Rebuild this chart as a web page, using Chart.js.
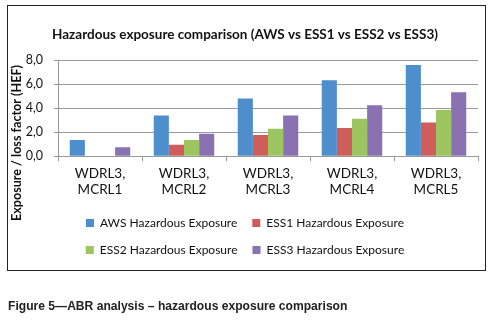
<!DOCTYPE html>
<html>
<head>
<meta charset="utf-8">
<script src="https://cdn.jsdelivr.net/npm/chart.js@4/dist/chart.umd.min.js"></script>
<style>
  html, body { margin: 0; padding: 0; background: #fff; }
  #wrap { position: relative; width: 492px; height: 322px; overflow: hidden; }
  #frame { position: absolute; left: 7px; top: 5px; width: 477px; height: 264px; border: 1px solid #222; pointer-events: none; }
  #cv { position: absolute; left: 0; top: 0; }
  #caption { position: absolute; left: 8px; top: 299px; font-family: "Liberation Sans", Arial, sans-serif; font-weight: bold; font-size: 12.1px; color: #222; white-space: nowrap; }
</style>
</head>
<body>
<div id="wrap">
  <canvas id="cv" width="492" height="322"></canvas>
  <div id="frame"></div>
  <div id="caption">Figure 5—ABR analysis – hazardous exposure comparison</div>
</div>
<script>
const categories = [["WDRL3,", "MCRL1"], ["WDRL3,", "MCRL2"], ["WDRL3,", "MCRL3"], ["WDRL3,", "MCRL4"], ["WDRL3,", "MCRL5"]];
const seriesNames = ["AWS Hazardous Exposure", "ESS1 Hazardous Exposure", "ESS2 Hazardous Exposure", "ESS3 Hazardous Exposure"];
const awsValues  = [1.36, 3.40, 4.82, 6.33, 7.60];
const ess1Values = [0.00, 0.96, 1.76, 2.35, 2.81];
const ess2Values = [0.00, 1.35, 2.30, 3.12, 3.86];
const ess3Values = [0.74, 1.87, 3.40, 4.25, 5.33];
const yTicks = [0, 2, 4, 6, 8];
const chartTitle = "Hazardous exposure comparison (AWS vs ESS1 vs ESS2 vs ESS3)";
const yTitle = "Exposure / loss factor (HEF)";

const colors = ["#4F8ECD", "#CF5D59", "#9CC45F", "#8A71B2"];
const seriesValues = [awsValues, ess1Values, ess2Values, ess3Values];

const FONT = "Lato, 'Open Sans', sans-serif";

// y-axis title drawn beside the axis (Excel-style placement, centred lower than the plot)
const yTitlePlugin = {
  id: "yTitlePlugin",
  afterDraw(chart) {
    const ctx = chart.ctx;
    ctx.save();
    ctx.translate(17, 143);
    ctx.rotate(-Math.PI / 2);
    ctx.font = "bold 12.6px " + FONT;
    ctx.fillStyle = "#111";
    ctx.textAlign = "center";
    ctx.textBaseline = "middle";
    ctx.fillText(yTitle, 0, 0);
    ctx.restore();
  }
};

new Chart(document.getElementById("cv"), {
  type: "bar",
  data: {
    labels: categories,
    datasets: seriesNames.map((name, i) => ({
      label: name,
      data: seriesValues[i],
      backgroundColor: colors[i],
      borderWidth: 0,
      categoryPercentage: 0.72,
      barPercentage: 1.0
    }))
  },
  plugins: [yTitlePlugin],
  options: {
    responsive: false,
    animation: false,
    devicePixelRatio: 1,
    layout: { padding: { left: 12, right: 14, top: 27, bottom: 56 } },
    plugins: {
      title: {
        display: true,
        text: chartTitle,
        color: "#111",
        font: { family: FONT, size: 13.5, weight: "bold" },
        padding: { top: 0, bottom: 17 }
      },
      legend: {
        position: "bottom",
        align: "center",
        labels: {
          color: "#111",
          font: { family: FONT, size: 12 },
          boxWidth: 8,
          boxHeight: 8,
          padding: 15
        }
      },
      tooltip: { enabled: false }
    },
    scales: {
      x: {
        grid: { display: true, drawOnChartArea: false, color: "#999", tickLength: 5, offset: true },
        border: { color: "#999" },
        ticks: { color: "#111", font: { family: FONT, size: 13.5, lineHeight: 1.25 }, padding: 3.5, maxRotation: 0 }
      },
      y: {
        min: 0,
        max: 8,
        afterBuildTicks: (axis) => { axis.ticks = yTicks.map(v => ({ value: v })); },
        afterFit: (scale) => { scale.width = 46; },
        grid: { color: "#9a9a9a", tickLength: 4 },
        border: { color: "#999" },
        ticks: {
          color: "#111",
          font: { family: FONT, size: 12.5 },
          padding: 11,
          callback: (v) => Number(v).toFixed(1).replace(".", ",")
        }
      }
    }
  }
});
</script>
</body>
</html>
